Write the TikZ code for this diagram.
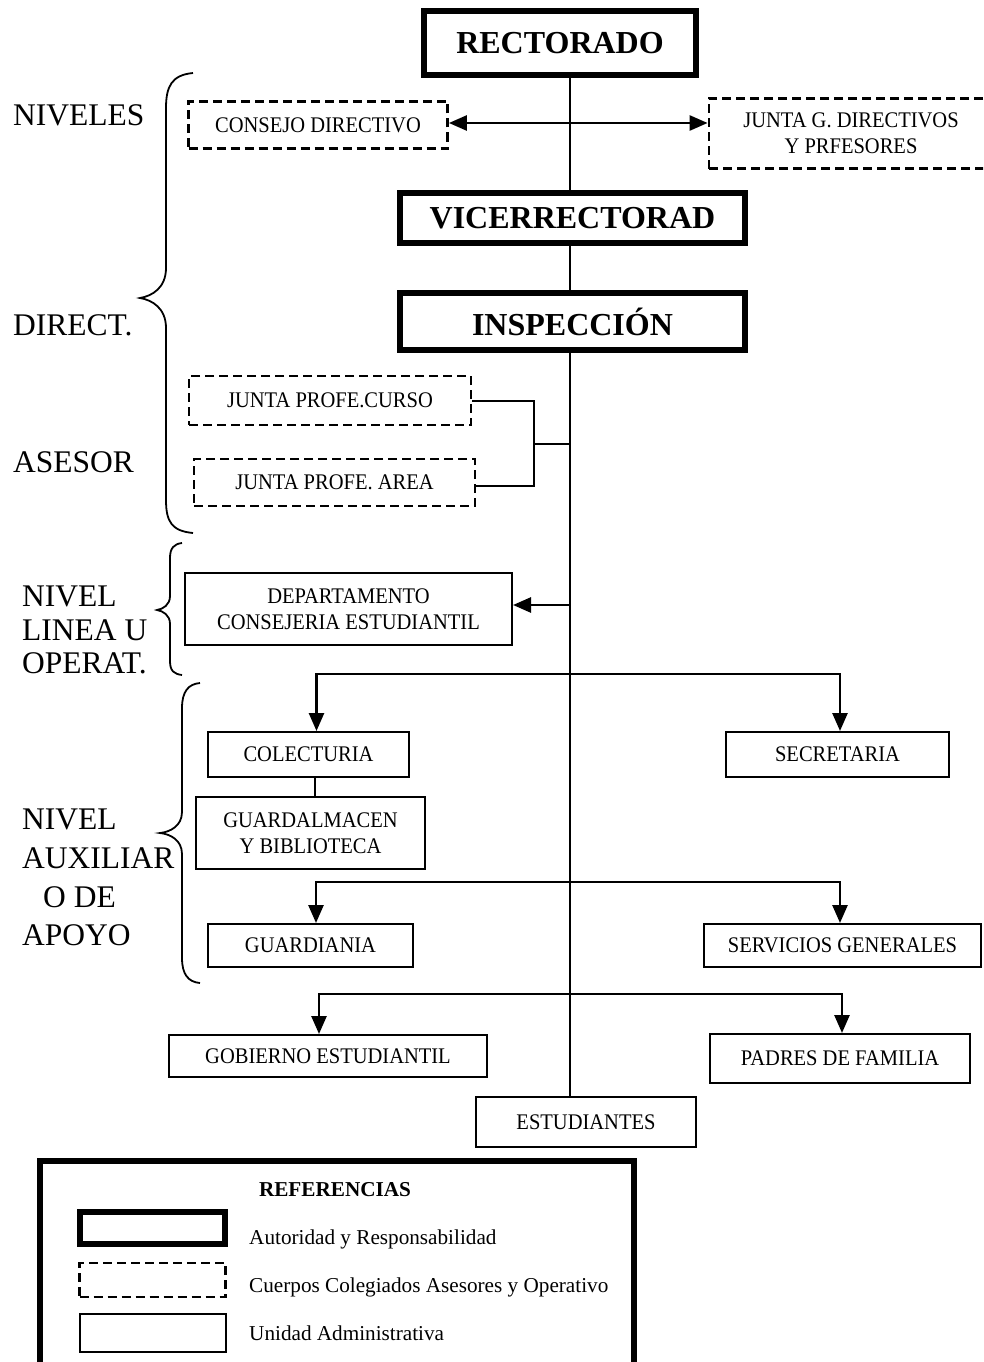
\documentclass[tikz,border=0pt]{standalone}
\usepackage{fontspec}
\setmainfont{Liberation Serif}
\newfontfamily\boxfont[FakeStretch=0.92]{Liberation Serif}
\usetikzlibrary{arrows.meta}

\begin{document}
\begin{tikzpicture}[x=1pt,y=-1pt,
  thickbox/.style={draw, line width=6pt, inner sep=0pt, font=\bfseries\fontsize{32}{36}\selectfont},
  dashbox/.style={draw, line width=2.8pt, dash pattern=on 9pt off 5pt, inner sep=0pt, align=center, font=\boxfont\fontsize{22.3}{26}\selectfont},
  unitbox/.style={draw, line width=2pt, inner sep=0pt, align=center, font=\boxfont\fontsize{22.3}{26}\selectfont},
  spine/.style={line width=1.6pt},
  link/.style={line width=2pt},
  arr/.style={line width=2.6pt, -{Triangle[length=18pt,width=15pt]}},
  dblarr/.style={line width=2.6pt, {Triangle[length=18pt,width=15pt]}-{Triangle[length=18pt,width=15pt]}},
  brace/.style={line width=1.8pt},
  lvl/.style={anchor=base west, inner sep=0pt, font=\fontsize{31.5}{34}\selectfont},
  legtext/.style={anchor=base west, inner sep=0pt, font=\fontsize{21.2}{25}\selectfont},
]
\useasboundingbox (0,0) rectangle (983,1362);
\clip (0,0) rectangle (983,1362);

% ---------- authority boxes ----------
\node[thickbox, minimum width=272pt, minimum height=64pt] (rect) at (560,43) {RECTORADO};
\node[thickbox, minimum width=345pt, minimum height=50pt] (vice) at (572.5,218) {VICERRECTORAD};
\node[thickbox, minimum width=345pt, minimum height=57pt] (insp) at (572.5,321.5) {INSPECCIÓN};

% ---------- collegiate bodies ----------
\node[dashbox, minimum width=259pt, minimum height=47pt] (cons) at (318,125) {CONSEJO DIRECTIVO};
\node[dashbox, minimum width=284pt, minimum height=70pt] (junta) at (851,133.5) {JUNTA G. DIRECTIVOS\\Y PRFESORES};
\node[dashbox, minimum width=282pt, minimum height=49pt] (jcurso) at (330,400.5) {JUNTA PROFE.CURSO};
\node[dashbox, minimum width=281pt, minimum height=47pt] (jarea) at (334.5,482.5) {JUNTA PROFE. AREA};

% ---------- administrative units ----------
\node[unitbox, minimum width=327pt, minimum height=72pt] (depto) at (348.5,609) {DEPARTAMENTO\\CONSEJERIA ESTUDIANTIL};
\node[unitbox, minimum width=201pt, minimum height=45pt] (colec) at (308.5,754.5) {COLECTURIA};
\node[unitbox, minimum width=223pt, minimum height=45pt] (secre) at (837.5,754.5) {SECRETARIA};
\node[unitbox, minimum width=229pt, minimum height=72pt] (guard) at (310.5,833) {GUARDALMACEN\\Y BIBLIOTECA};
\node[unitbox, minimum width=205pt, minimum height=43pt] (guardia) at (310.5,945.5) {GUARDIANIA};
\node[unitbox, minimum width=277pt, minimum height=43pt] (serv) at (842.5,945.5) {SERVICIOS GENERALES};
\node[unitbox, minimum width=318pt, minimum height=42pt] (gob) at (328,1056) {GOBIERNO ESTUDIANTIL};
\node[unitbox, minimum width=260pt, minimum height=49pt] (padres) at (840,1058.5) {PADRES DE FAMILIA};
\node[unitbox, minimum width=220pt, minimum height=50pt] (estud) at (586,1122) {ESTUDIANTES};

% ---------- main vertical line ----------
\coordinate (sx) at (570,0);
\draw[spine] (rect.south -| sx) -- (vice.north -| sx);
\draw[spine] (vice.south -| sx) -- (insp.north -| sx);
\draw[spine] (insp.south -| sx) -- (estud.north -| sx);

% two-way link between the councils
\draw[dblarr] ([yshift=2pt]cons.east) -- ([yshift=2pt]cons.east -| junta.west);

% advisory boards bracket
\draw[link] (jcurso.east) -- ++(62,0) |- ([yshift=-3.5pt]jarea.east);
\coordinate (jm) at (533,444);
\draw[link] (jm) -- (jm -| sx);

% line units
\coordinate (d1) at (570,605);
\draw[arr] (d1) -- (d1 -| depto.east);

\coordinate (b1) at (570,674);
\draw[arr] (b1) -| ([xshift=8pt]colec.north);
\draw[arr] (b1) -| ([xshift=2.5pt]secre.north);
\draw[spine] ([xshift=6.5pt]colec.south) -- ([xshift=6.5pt]colec.south |- guard.north);

\coordinate (b2) at (570,882);
\draw[arr] (b2) -| ([xshift=5.5pt]guardia.north);
\draw[arr] (b2) -| ([xshift=-2.5pt]serv.north);

\coordinate (b3) at (570,994);
\draw[arr] (b3) -| ([xshift=-9pt]gob.north);
\draw[arr] (b3) -| ([xshift=2pt]padres.north);

% ---------- level labels and braces ----------
\node[lvl] (l1) at (13,126) {NIVELES};
\node[lvl] (l2) at (13,335) {DIRECT.};
\node[lvl] (l3) at (13,472) {ASESOR};

\node[lvl] (l4a) at (22,606) {NIVEL};
\node[lvl] (l4b) at (22,640) {LINEA U};
\node[lvl] (l4c) at (22,673) {OPERAT.};

\node[lvl] (l5a) at (22,829) {NIVEL};
\node[lvl] (l5b) at (22,868) {AUXILIAR};
\node[lvl] (l5c) at (43,907) {O DE};
\node[lvl] (l5d) at (22,945) {APOYO};

\draw[brace] (193,73) .. controls (172,75) and (166,86) .. (166,108)
  -- (166,268) .. controls (166,288) and (152,296) .. (140,298)
  .. controls (152,300) and (166,308) .. (166,328)
  -- (166,500) .. controls (166,522) and (172,531) .. (193,533);

\draw[brace] (182,543) .. controls (174,544) and (170,548) .. (170,558)
  -- (170,596) .. controls (170,605) and (163,609) .. (157,610)
  .. controls (163,611) and (170,615) .. (170,624)
  -- (170,661) .. controls (170,671) and (174,674) .. (182,675);

\draw[brace] (200,683) .. controls (188,684) and (182,692) .. (182,708)
  -- (182,812) .. controls (182,826) and (170,832) .. (160,833)
  .. controls (170,834) and (182,840) .. (182,854)
  -- (182,958) .. controls (182,974) and (188,982) .. (200,983);

% ---------- legend ----------
\node[draw, line width=6pt, minimum width=594pt, minimum height=239pt, inner sep=0pt] (leg) at (337,1280.5) {};
\node[inner sep=0pt, font=\bfseries\fontsize{21.2}{25}\selectfont] (legtitle) at (335,1190) {REFERENCIAS};
\node[draw, line width=5.5pt, minimum width=145pt, minimum height=32pt, inner sep=0pt] (k1) at (152.5,1228) {};
\node[draw, line width=2.8pt, dash pattern=on 9pt off 5pt, minimum width=146pt, minimum height=34pt, inner sep=0pt] (k2) at (152.5,1280) {};
\node[draw, line width=2pt, minimum width=146pt, minimum height=38pt, inner sep=0pt] (k3) at (152.5,1332.5) {};
\node[legtext] (t1) at (249,1244) {Autoridad y Responsabilidad};
\node[legtext] (t2) at (249,1292) {Cuerpos Colegiados Asesores y Operativo};
\node[legtext] (t3) at (249,1340) {Unidad Administrativa};
\end{tikzpicture}
\end{document}
